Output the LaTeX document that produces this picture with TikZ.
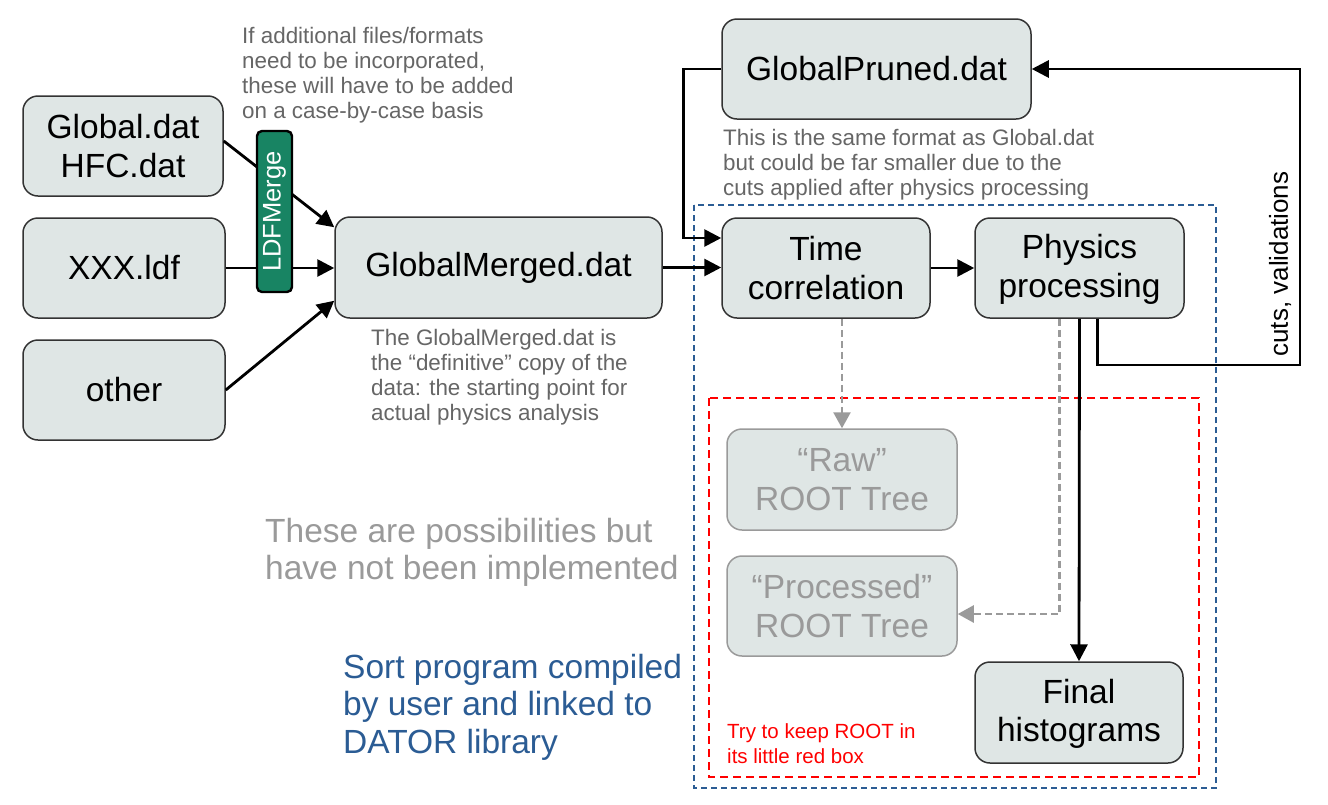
\documentclass[tikz,border=0pt]{standalone}
\usepackage{fontspec}
\setmainfont{Liberation Sans}
\usetikzlibrary{arrows.meta,calc}
\definecolor{boxfill}{HTML}{DFE6E5}
\definecolor{boxline}{HTML}{333333}
\definecolor{ghostgrey}{HTML}{9A9A9A}
\definecolor{notegrey}{HTML}{666666}
\definecolor{ldfgreen}{HTML}{188463}
\definecolor{sortblue}{HTML}{2B5C94}
\definecolor{redbox}{HTML}{FF0000}
\begin{document}
\begin{tikzpicture}[x=1pt,y=-1pt,
  box/.style={draw=boxline, fill=boxfill, line width=1.5pt, rounded corners=15pt, inner sep=0pt, align=center, font=\fontsize{33.5}{38.5}\selectfont},
  ghost/.style={box, draw=ghostgrey, text=ghostgrey},
  arr/.style={line width=2.8pt, -{Triangle[length=17pt,width=17pt]}},
  garr/.style={draw=ghostgrey, line width=2.5pt, dash pattern=on 7pt off 4pt, -{Triangle[length=16pt,width=17pt]}},
  note/.style={text=notegrey, align=left, inner sep=0pt, anchor=north west, font=\fontsize{22.4}{25}\selectfont},
  bignote/.style={align=left, inner sep=0pt, anchor=north west, font=\fontsize{33.5}{37.5}\selectfont}]
\useasboundingbox (0,0) rectangle (1328,804);
\fill[white] (0,0) rectangle (1328,804);

% dashed regions
\draw[sortblue, line width=2.2pt, dash pattern=on 6pt off 4pt] (694,205) rectangle (1216,788);
\draw[redbox, line width=2.5pt, dash pattern=on 8pt off 5pt] (709,398) rectangle (1199,777);

% boxes
\node[box, minimum width=200, minimum height=100] (glob) at (123,146) {Global.dat\\HFC.dat};
\node[box, minimum width=202, minimum height=100] (xxx) at (124,268) {XXX.ldf};
\node[box, minimum width=202, minimum height=100] (oth) at (124,390) {other};
\node[box, minimum width=327, minimum height=101] (gm) at (498.5,267.5) {GlobalMerged.dat};
\node[box, minimum width=309, minimum height=100] (gp) at (876.5,69) {GlobalPruned.dat};
\node[box, minimum width=208, minimum height=100] (tc) at (826,268) {Time\\correlation};
\node[box, minimum width=209, minimum height=100] (pp) at (1079.5,268) {\strut Physics\\processing};
\node[ghost, minimum width=230, minimum height=101] (raw) at (842,479.5) {“Raw”\\ROOT Tree};
\node[ghost, minimum width=230, minimum height=100] (proc) at (842,606) {“Processed”\\ROOT Tree};
\node[box, minimum width=208, minimum height=101] (fin) at (1079,712.5) {\strut Final\\histograms};

% connectors
\draw[arr] ($(glob.east)+(0,-5)$) -- ($(gm.north west)+(0,11)$);
\draw[arr] (xxx.east) -- (xxx.east -| gm.west);
\draw[arr] (oth.east) -- ($(gm.south west)+(0,-18)$);
\draw[arr] (gm.east) -- (gm.east -| tc.west);
\draw[arr] (gp.west) -- ++(-38,0) |- ($(tc.west)+(0,-30)$);
\draw[arr] (tc.east) -- (pp.west);
\draw[arr] (pp.south) -- (fin.north);
\coordinate (rt) at (1300,365);
\draw[arr] ($(pp.south)+(18,0)$) |- (rt) |- (gp.east);
\draw[garr] (raw.north |- tc.south) -- (raw.north);
\draw[garr] ($(pp.south)+(-20,0)$) |- ($(proc.east)+(0,8)$);

% LDFMerge drawn over the connectors
\node[draw=black, fill=ldfgreen, line width=2.4pt, rounded corners=5pt, rotate=90, minimum width=161, minimum height=35, inner sep=0pt, text=white, font=\fontsize{25.5}{28}\selectfont] (ldf) at (274.5,211.5) {LDFMerge};

% labels and notes
\node[rotate=90, font=\fontsize{26}{28}\selectfont, inner sep=0pt] (cuts) at (1280,264) {cuts, validations};
\node[note] (n1) at (242,27) {If additional files/formats\\need to be incorporated,\\these will have to be added\\on a case-by-case basis};
\node[note] (n2) at (371,329) {The GlobalMerged.dat is\\the “definitive” copy of the\\data: the starting point for\\actual physics analysis};
\node[note] (n3) at (723,129) {This is the same format as Global.dat\\but could be far smaller due to the\\cuts applied after physics processing};
\node[bignote, text=ghostgrey] (poss) at (265,518) {These are possibilities but\\have not been implemented};
\node[bignote, text=sortblue] (sort) at (343,654) {Sort program compiled\\by user and linked to\\DATOR library};
\node[note, text=redbox, font=\fontsize{20.5}{25}\selectfont] (try) at (727,723) {Try to keep ROOT in\\its little red box};
\end{tikzpicture}
\end{document}
